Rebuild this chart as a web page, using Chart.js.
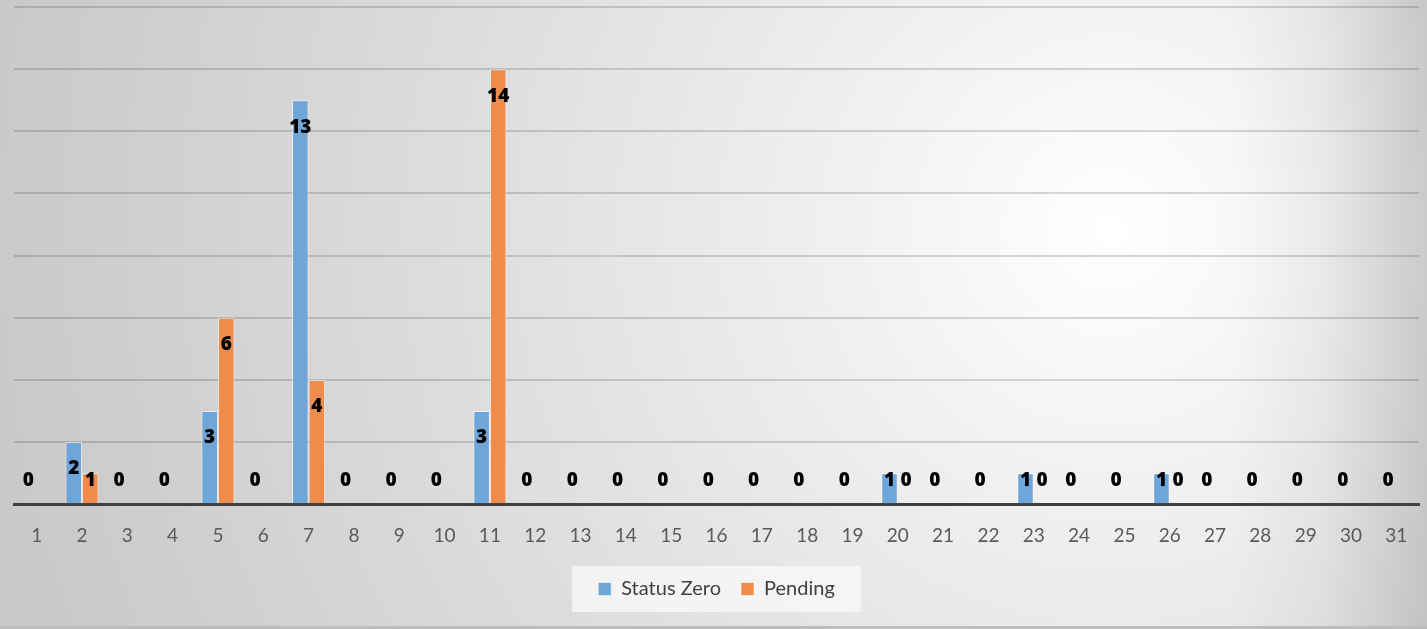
<!DOCTYPE html>
<html>
<head>
<meta charset="utf-8">
<script src="https://cdn.jsdelivr.net/npm/chart.js@4"></script>
<style>
  html, body { margin: 0; padding: 0; }
  body { width: 1427px; height: 629px; overflow: hidden;
    background:
      linear-gradient(to right, rgba(0,0,0,0) 0px, rgba(0,0,0,0) 1230px, rgba(0,0,0,0.04) 1320px, rgba(0,0,0,0.15) 1427px),
      radial-gradient(circle 1150px at 1110px 230px, #ffffff 0%, #f1f1f1 22%, #e0e0e0 52%, #cfcfcf 85%, #c8c8c8 100%); }
  #wrap { position: absolute; left: 0; top: 0; width: 1427px; height: 629px; }
  #bordo { position: absolute; left: 0; top: 626px; width: 1427px; height: 3px; background: #bdbdbd; }
</style>
</head>
<body>
<div id="wrap"><canvas id="grafico"></canvas></div>
<div id="bordo"></div>
<script>
// giorni del mese
const giorni = ['1','2','3','4','5','6','7','8','9','10','11','12','13','14','15','16','17','18','19','20','21','22','23','24','25','26','27','28','29','30','31'];
// serie
const statusZero = [0,2,0,0,3,0,13,0,0,0,3,0,0,0,0,0,0,0,0,1,0,0,1,0,0,1,0,0,0,0,0];
const pending    = [null,1,null,null,6,null,4,null,null,null,14,null,null,null,null,null,null,null,null,0,null,null,0,null,null,0,null,null,null,null,null];

const FONT = "Lato, 'Open Sans', sans-serif";

// etichette dati "inside end"
const etichette = {
  id: 'etichette',
  afterDatasetsDraw(chart) {
    const ctx = chart.ctx;
    const base = chart.scales.y.getPixelForValue(0);
    ctx.save();
    ctx.font = "800 19px 'Open Sans', sans-serif";
    ctx.fillStyle = '#000';
    ctx.textAlign = 'center';
    ctx.textBaseline = 'middle';
    chart.data.datasets.forEach((ds, i) => {
      chart.getDatasetMeta(i).data.forEach((el, j) => {
        const v = ds.data[j];
        if (v === null || v === undefined) return;
        const y = Math.min(el.y + 27, base - 24);
        ctx.fillText(String(v), el.x, y);
      });
    });
    ctx.restore();
  }
};

// sfondo chiaro dietro la legenda
const legendaBox = {
  id: 'legendaBox',
  beforeDraw(chart) {
    const hb = chart.legend && chart.legend.legendHitBoxes;
    if (!hb || !hb.length) return;
    const first = hb[0], last = hb[hb.length - 1];
    const ctx = chart.ctx;
    ctx.save();
    ctx.fillStyle = 'rgba(247,247,247,0.85)';
    ctx.fillRect(first.left - 26, first.top - 13, (last.left + last.width) - first.left + 52, first.height + 26);
    ctx.restore();
  }
};

new Chart(document.getElementById('grafico'), {
  type: 'bar',
  data: {
    labels: giorni,
    datasets: [
      { label: 'Status Zero', data: statusZero, backgroundColor: '#6fa6da', borderColor: 'rgba(255,255,255,0.55)', borderWidth: 1 },
      { label: 'Pending', data: pending, backgroundColor: '#ef8c4c', borderColor: 'rgba(255,255,255,0.55)', borderWidth: 1 }
    ]
  },
  options: {
    responsive: true,
    maintainAspectRatio: false,
    animation: false,
    layout: { padding: { left: 14, right: 8, top: 7, bottom: 20 } },
    datasets: { bar: { categoryPercentage: 0.73, barPercentage: 1 } },
    scales: {
      x: {
        grid: { display: false },
        border: { display: true, color: '#404040', width: 3 },
        ticks: { color: '#595959', font: { family: FONT, size: 19 }, padding: 12, maxRotation: 0, autoSkip: false }
      },
      y: {
        min: 0, max: 16,
        ticks: { display: false, stepSize: 2 },
        grid: { color: 'rgba(0,0,0,0.15)', lineWidth: 2, drawTicks: false },
        border: { display: false }
      }
    },
    plugins: {
      tooltip: { enabled: false },
      legend: {
        position: 'bottom',
        labels: { color: '#404040', font: { family: FONT, size: 20 }, boxWidth: 13, boxHeight: 13, padding: 20 }
      }
    }
  },
  plugins: [legendaBox, etichette]
});
</script>
</body>
</html>
